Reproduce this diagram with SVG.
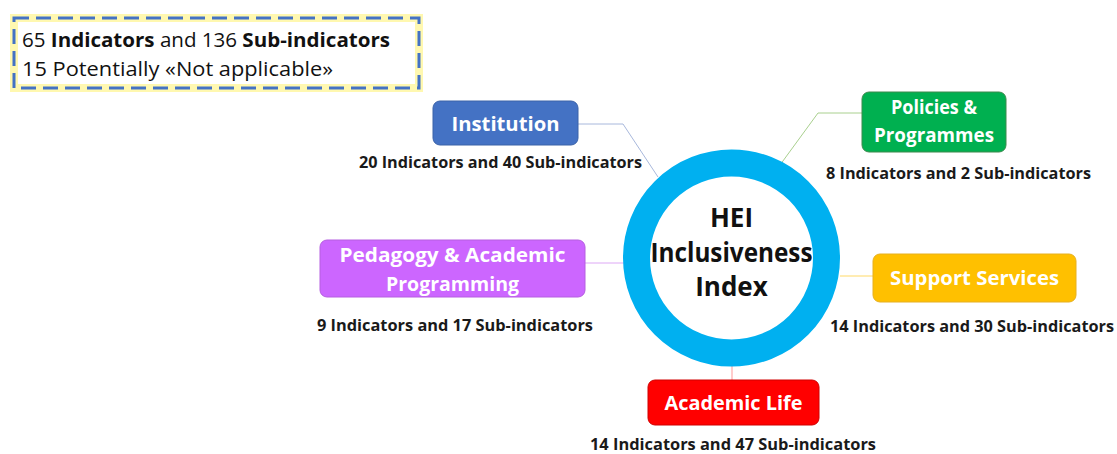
<svg xmlns="http://www.w3.org/2000/svg" width="1117" height="454" viewBox="0 0 1117 454">
<style>
.lbl{font-family:"Open Sans","Noto Sans","Liberation Sans",sans-serif;font-weight:bold;fill:#fff;text-anchor:middle}
.sub{font-family:"Open Sans","Noto Sans","Liberation Sans",sans-serif;font-weight:bold;fill:#1a1a1a;font-size:16px}
.note{font-family:"Open Sans","Noto Sans","Liberation Sans",sans-serif;fill:#111;font-size:20px}
.conn{fill:none;stroke-width:1}
</style>
<rect width="1117" height="454" fill="#fff"/>
<g id="legend">
<rect x="14" y="18" width="405" height="70" fill="none" stroke="#fff8b0" stroke-width="8"/>
<rect x="14" y="18" width="405" height="70" fill="none" stroke="#4472C4" stroke-width="3" stroke-dasharray="15 7"/>
<text class="note" x="22" y="47" textLength="368" lengthAdjust="spacingAndGlyphs">65 <tspan font-weight="bold">Indicators</tspan> and 136 <tspan font-weight="bold">Sub-indicators</tspan></text>
<text class="note" x="22" y="76" textLength="311" lengthAdjust="spacingAndGlyphs">15 Potentially «Not applicable»</text>
</g>
<g id="connectors">
<polyline class="conn" stroke="#a8b8dc" points="578,124 623,124 658,177"/>
<polyline class="conn" stroke="#a9d08e" points="862,113 818,113 780,165"/>
<line class="conn" stroke="#dda8f5" x1="585" y1="263" x2="624" y2="263"/>
<line class="conn" stroke="#ffd966" x1="840" y1="276" x2="873" y2="276"/>
<line class="conn" stroke="#ff9999" x1="732" y1="365" x2="732" y2="380"/>
</g>
<g id="hub">
<circle cx="731.5" cy="258" r="95" fill="#fff" stroke="#00B0F0" stroke-width="27"/>
<text class="lbl" style="fill:#111;font-size:26px" x="731.5" y="227">HEI</text>
<text class="lbl" style="fill:#111;font-size:26px" x="731.5" y="262" textLength="162" lengthAdjust="spacingAndGlyphs">Inclusiveness</text>
<text class="lbl" style="fill:#111;font-size:26px" x="731.5" y="296">Index</text>
</g>
<g id="institution">
<rect x="433" y="101" width="145" height="44" rx="7" fill="#4472C4" stroke="#3a62a8" stroke-width="1"/>
<text class="lbl" x="505.5" y="131" font-size="20" textLength="108" lengthAdjust="spacingAndGlyphs">Institution</text>
<text class="sub" x="359" y="168" textLength="283" lengthAdjust="spacingAndGlyphs">20 Indicators and 40 Sub-indicators</text>
</g>
<g id="policies">
<rect x="862" y="92" width="144" height="60" rx="7" fill="#00B050" stroke="#3d8a4d" stroke-width="1"/>
<text class="lbl" x="934" y="114" font-size="19" textLength="86" lengthAdjust="spacingAndGlyphs">Policies &amp;</text>
<text class="lbl" x="934" y="142" font-size="19" textLength="120" lengthAdjust="spacingAndGlyphs">Programmes</text>
<text class="sub" x="826" y="179" textLength="265" lengthAdjust="spacingAndGlyphs">8 Indicators and 2 Sub-indicators</text>
</g>
<g id="pedagogy">
<rect x="320" y="240" width="265" height="57" rx="7" fill="#CC66FF" stroke="#b55ee0" stroke-width="1"/>
<text class="lbl" x="452.5" y="262" font-size="20" textLength="226" lengthAdjust="spacingAndGlyphs">Pedagogy &amp; Academic</text>
<text class="lbl" x="452.5" y="291" font-size="20" textLength="133" lengthAdjust="spacingAndGlyphs">Programming</text>
<text class="sub" x="317" y="331" textLength="276" lengthAdjust="spacingAndGlyphs">9 Indicators and 17 Sub-indicators</text>
</g>
<g id="support">
<rect x="873" y="254" width="203" height="48" rx="7" fill="#FFC000" stroke="#e6b020" stroke-width="1"/>
<text class="lbl" x="974.5" y="285" font-size="20" textLength="169" lengthAdjust="spacingAndGlyphs">Support Services</text>
<text class="sub" x="830" y="332" textLength="284" lengthAdjust="spacingAndGlyphs">14 Indicators and 30 Sub-indicators</text>
</g>
<g id="academic-life">
<rect x="648" y="380" width="171" height="45" rx="7" fill="#FF0000" stroke="#d00000" stroke-width="1"/>
<text class="lbl" x="733.5" y="410" font-size="20" textLength="138" lengthAdjust="spacingAndGlyphs">Academic Life</text>
<text class="sub" x="590" y="450" textLength="286" lengthAdjust="spacingAndGlyphs">14 Indicators and 47 Sub-indicators</text>
</g>
</svg>
